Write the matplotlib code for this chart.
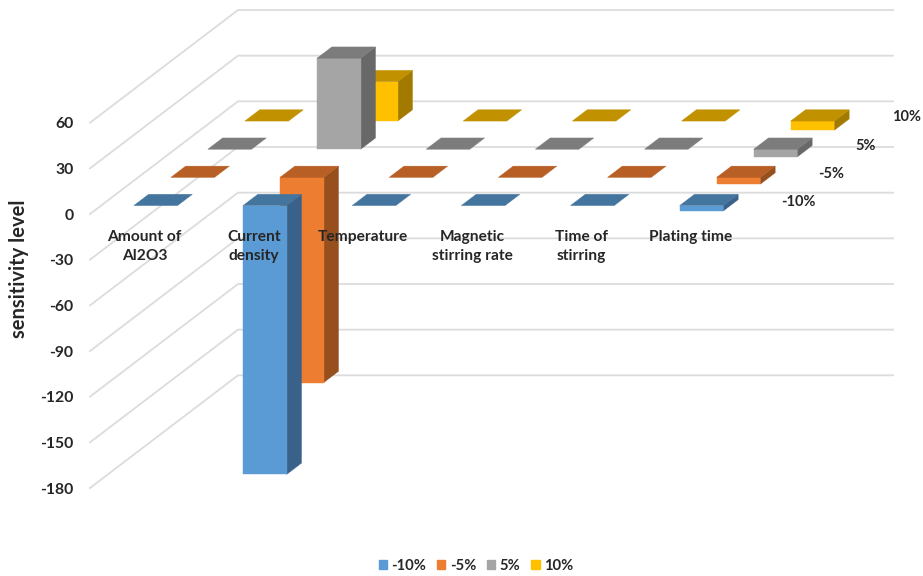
import matplotlib
matplotlib.use("Agg")
import matplotlib.pyplot as plt
from matplotlib.patches import Polygon, Patch

plt.rcParams["font.family"] = ["Lato", "DejaVu Sans"]

categories = ["Amount of\nAl2O3", "Current\ndensity", "Temperature",
              "Magnetic\nstirring rate", "Time of\nstirring", "Plating time"]
series_names = ["-10%", "-5%", "5%", "10%"]
minus_10 = [0, -176.6, 0, 0, 0, -3.5]
minus_5 = [0, -134.8, 0, 0, 0, -4.4]
plus_5 = [0, 59.8, 0, 0, 0, -5.0]
plus_10 = [0, 25.9, 0, 0, 0, -6.0]
series_values = [minus_10, minus_5, plus_5, plus_10]
value_ticks = [60, 30, 0, -30, -60, -90, -120, -150, -180]

# face colours per series: front, top, right side
front_colors = ["#5B9BD5", "#ED7D31", "#A5A5A5", "#FFC000"]
top_colors = ["#44759F", "#B75F25", "#7C7C7C", "#C19100"]
side_colors = ["#39618A", "#964F1D", "#686868", "#A37A00"]
grid_color = "#DCDCDC"
text_color = "#262626"

W, H = 923, 576
fig = plt.figure(figsize=(W / 100, H / 100), dpi=100, facecolor="white")
# the axes rectangle is the front plane of the oblique box
left, right, top, bottom = 90, 745, 122.7, 488
ax = fig.add_axes([left / W, 1 - bottom / H, (right - left) / W, (bottom - top) / H])
ax.set_xlim(0, 6)
ax.set_ylim(-180, 60)
for spine in ax.spines.values():
    spine.set_visible(False)

# shift per unit of depth (one series), in category and value units
depth_x = 37.0 / ((right - left) / 6)
depth_y = 28.17 / ((bottom - top) / 240)


def project(cat, depth, value):
    return cat + depth * depth_x, value + depth * depth_y


def face(points, color):
    ax.add_patch(Polygon([project(*p) for p in points], closed=True, facecolor=color,
                         edgecolor=color, linewidth=0.3, clip_on=False, zorder=2))


# walls: one polyline per value tick
for v in value_ticks:
    pts = [project(0, 0, v), project(0, 4, v), project(6, 4, v)]
    ax.plot(*zip(*pts), color=grid_color, lw=1.3, clip_on=False, zorder=1,
            solid_joinstyle="miter")

# bars, painted from the back row forward and left to right
for s in range(3, -1, -1):
    for c, v in enumerate(series_values[s]):
        x0, x1 = c + 0.3, c + 0.7
        d0, d1 = s + 0.3, s + 0.7
        hi, lo = max(v, 0), min(v, 0)
        if hi != lo:
            face([(x1, d0, lo), (x1, d1, lo), (x1, d1, hi), (x1, d0, hi)], side_colors[s])
            face([(x0, d0, lo), (x1, d0, lo), (x1, d0, hi), (x0, d0, hi)], front_colors[s])
        face([(x0, d0, hi), (x1, d0, hi), (x1, d1, hi), (x0, d1, hi)], top_colors[s])

ax.set_xticks([])
ax.set_yticks(value_ticks)
ax.set_yticklabels([str(v) for v in value_ticks], fontsize=11.3, fontweight="bold", color=text_color)
ax.tick_params(axis="y", length=0, pad=12)
for tick_label in ax.get_yticklabels():
    tick_label.set_verticalalignment("center_baseline")
ax.set_ylabel("sensitivity level", fontsize=14.5, fontweight="bold", color=text_color)
ax.yaxis.set_label_coords((29 - left) / (right - left), (bottom - 269) / (bottom - top))

# category names sit just below the zero line of the front plane
for c, name in enumerate(categories):
    ax.text(c + 0.5, -10.5, name, ha="center", va="top", fontsize=11.2, fontweight="bold",
            color=text_color, linespacing=1.42, zorder=3)

# series names run along the right-hand end of the depth axis
for s, name in enumerate(series_names):
    x, y = project(6.16, s + 0.5, -1.3)
    ax.text(x, y, name, ha="left", va="center", fontsize=10.5, fontweight="bold",
            color=text_color, zorder=3)

handles = [Patch(facecolor=col, edgecolor=col, label=n) for col, n in zip(front_colors, series_names)]
leg = fig.legend(handles=handles, loc="center", bbox_to_anchor=(476 / W, 1 - 565.5 / H), ncol=4,
                 frameon=False, fontsize=10.6, handlelength=0.55, handleheight=0.6,
                 handletextpad=0.3, columnspacing=0.75, borderpad=0, borderaxespad=0)
for t in leg.get_texts():
    t.set_fontweight("bold")
    t.set_color(text_color)

fig.savefig("out.png", dpi=100)
